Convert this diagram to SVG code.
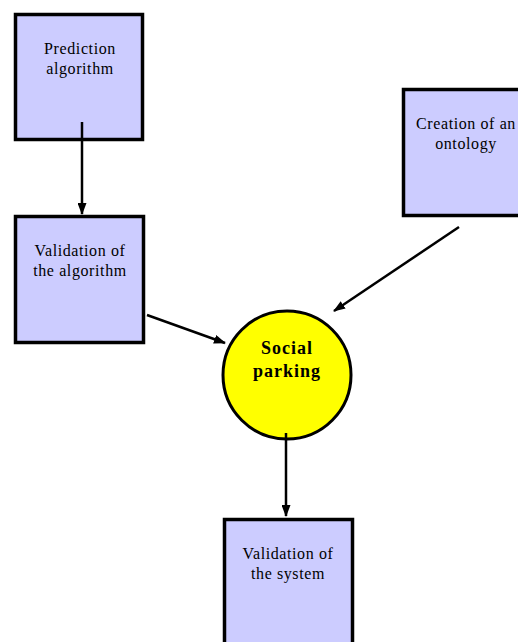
<svg xmlns="http://www.w3.org/2000/svg" width="518" height="642" viewBox="0 0 518 642">
<defs>
<style>
.box{fill:#ccccff;stroke:#000;stroke-width:3.5}
.t{font-family:"Liberation Serif","Times New Roman",serif;font-size:16px;letter-spacing:0.6px;text-anchor:middle;fill:#000}
.b{font-family:"Liberation Serif","Times New Roman",serif;font-size:18px;font-weight:bold;letter-spacing:1px;text-anchor:middle;fill:#000}
.c{stroke:#000;stroke-width:2.5;fill:none;marker-end:url(#ah)}
</style>
<marker id="ah" markerWidth="12" markerHeight="9" refX="11" refY="4.5" orient="auto" markerUnits="userSpaceOnUse">
<path d="M0,0 L12,4.5 L0,9 Z" fill="#000"/>
</marker>
</defs>
<rect width="518" height="642" fill="#fff"/>
<g id="prediction">
<rect class="box" x="15.5" y="14.5" width="127" height="125"/>
<text class="t" x="80" y="54">Prediction</text>
<text class="t" x="80" y="74">algorithm</text>
</g>
<g id="validation-algorithm">
<rect class="box" x="15.5" y="216.5" width="128" height="126"/>
<text class="t" x="80" y="256">Validation of</text>
<text class="t" x="80" y="276">the algorithm</text>
</g>
<g id="ontology">
<rect class="box" x="403.5" y="89.5" width="128" height="126"/>
<text class="t" x="466" y="129">Creation of an</text>
<text class="t" x="466" y="149">ontology</text>
</g>
<g id="social-parking">
<circle cx="287" cy="375" r="64" fill="#ffff00" stroke="#000" stroke-width="3"/>
<text class="b" x="287" y="354">Social</text>
<text class="b" x="287" y="377">parking</text>
</g>
<g id="validation-system">
<rect class="box" x="224.5" y="519.5" width="128" height="130"/>
<text class="t" x="288" y="559">Validation of</text>
<text class="t" x="288" y="579">the system</text>
</g>
<g id="connectors">
<line class="c" x1="82" y1="122" x2="82" y2="214"/>
<line class="c" x1="147" y1="315" x2="225" y2="343"/>
<line class="c" x1="459" y1="227" x2="334" y2="311"/>
<line class="c" x1="286" y1="433" x2="286" y2="516"/>
</g>
</svg>
